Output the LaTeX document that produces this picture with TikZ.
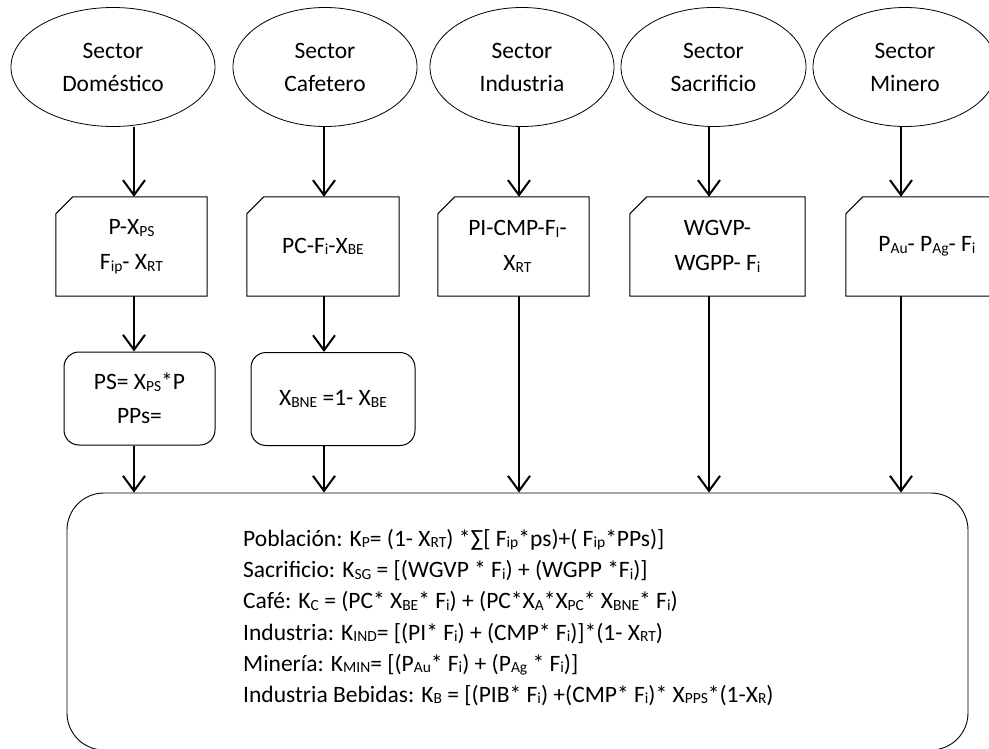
\documentclass[tikz,border=0pt]{standalone}
\usepackage{fontspec}
\setmainfont{Carlito}
\usetikzlibrary{arrows.meta,shapes.geometric}
\newcommand\subs[1]{\raisebox{-1.5pt}{\fontsize{15.5pt}{15.5pt}\selectfont #1}}
\begin{document}
\begin{tikzpicture}[x=1pt,y=-1pt,
  font=\fontsize{23.5pt}{33pt}\selectfont,
  sector/.style={ellipse, draw, line width=0.8pt, minimum width=184pt, minimum height=119pt, align=center, inner sep=0pt},
  cardbox/.style={minimum height=99pt, align=center, inner sep=0pt, font=\fontsize{23.5pt}{35pt}\selectfont},
  cardline/.style={line width=1pt},
  roundbox/.style={draw, line width=1pt, rounded corners=15pt, minimum height=93pt, align=center, inner sep=0pt, font=\fontsize{23.5pt}{34pt}\selectfont},
  bigbox/.style={draw, line width=0.9pt, rounded corners=37pt, inner sep=0pt},
  arr/.style={line width=2pt, -{Straight Barb[length=15pt,width=22pt,line width=2pt]}}
]
\useasboundingbox (0,0) rectangle (989,749);

% sectors
\node[sector, minimum width=204pt] (e1) at (113,67) {Sector\\Doméstico};
\node[sector] (e2) at (325,67) {Sector\\Cafetero};
\node[sector] (e3) at (522,67) {Sector\\Industria};
\node[sector, minimum width=185pt] (e4) at (713.5,67) {Sector\\Sacrificio};
\node[sector] (e5) at (905,67) {Sector\\Minero};

% cards
\node[cardbox, minimum width=151pt] (c1) at (131.5,246.5) {P-X\subs{PS}\\F\subs{ip}- X\subs{RT}};
\node[cardbox, minimum width=152pt] (c2) at (323,246.5) {PC-F\subs{i}-X\subs{BE}};
\node[cardbox, minimum width=151pt] (c3) at (513.5,246.5) {\hspace*{8pt}PI-CMP-F\subs{I}-\\\hspace*{8pt}X\subs{RT}};
\node[cardbox, minimum width=175pt] (c4) at (717.5,246.5) {WGVP-\\WGPP- F\subs{i}};
\node[cardbox, minimum width=162pt] (c5) at (927,246.5) {P\subs{Au}- P\subs{Ag}- F\subs{i}};
\foreach \c in {c1,c2,c3,c4,c5}
  \draw[cardline] ([xshift=17pt]\c.north west) -- (\c.north east) -- (\c.south east) -- (\c.south west) -- ([yshift=-17pt]\c.north west) -- cycle;

% rounded boxes
\node[roundbox, minimum width=151pt] (r1) at (139.5,398.5) {PS= X\subs{PS}*P\\PPs=};
\node[roundbox, minimum width=164pt] (r2) at (333,399) {X\subs{BNE} =1- X\subs{BE}};

% big box
\node[bigbox, minimum width=901pt, minimum height=257pt] (big) at (517.5,621.5) {};
\node[anchor=west, align=left, inner sep=0pt, font=\fontsize{23.5pt}{31.2pt}\selectfont] (formulas) at (243,617.5) {%
Población: K\subs{P}= (1- X\subs{RT}) *∑[ F\subs{ip}*ps)+( F\subs{ip}*PPs)]\\
Sacrificio: K\subs{SG} = [(WGVP * F\subs{i}) + (WGPP *F\subs{i})]\\
Café: K\subs{C} = (PC* X\subs{BE}* F\subs{i}) + (PC*X\subs{A}*X\subs{PC}* X\subs{BNE}* F\subs{i})\\
Industria: K\subs{IND}= [(PI* F\subs{i}) + (CMP* F\subs{i})]*(1- X\subs{RT})\\
Minería: K\subs{MIN}= [(P\subs{Au}* F\subs{i}) + (P\subs{Ag} * F\subs{i})]\\
Industria Bebidas: K\subs{B} = [(PIB* F\subs{i}) +(CMP* F\subs{i})* X\subs{PPS}*(1-X\subs{R})};

% columns
\coordinate (k1) at (134,0);
\coordinate (k2) at (324,0);
\coordinate (k3) at (519,0);
\coordinate (k4) at (709,0);
\coordinate (k5) at (901,0);

% arrows
\draw[arr] (k1 |- e1.south) -- (k1 |- c1.north);
\draw[arr] (k2 |- e2.south) -- (k2 |- c2.north);
\draw[arr] (k3 |- e3.south) -- (k3 |- c3.north);
\draw[arr] (k4 |- e4.south) -- (k4 |- c4.north);
\draw[arr] (k5 |- e5.south) -- (k5 |- c5.north);
\draw[arr] (k1 |- c1.south) -- (k1 |- r1.north);
\draw[arr] (k2 |- c2.south) -- (k2 |- r2.north);
\draw[arr] (k1 |- r1.south) -- (k1 |- big.north);
\draw[arr] (k2 |- r2.south) -- (k2 |- big.north);
\draw[arr] (k3 |- c3.south) -- (k3 |- big.north);
\draw[arr] (k4 |- c4.south) -- (k4 |- big.north);
\draw[arr] (k5 |- c5.south) -- (k5 |- big.north);
\end{tikzpicture}
\end{document}
